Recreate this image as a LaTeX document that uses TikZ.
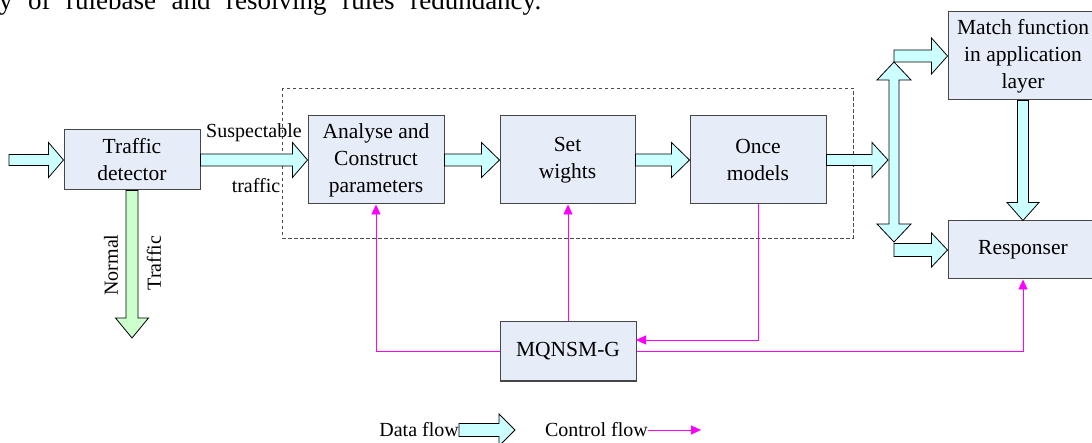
\documentclass[tikz,border=0pt]{standalone}
\usepackage{fontspec}
\setmainfont{Liberation Serif}
\usetikzlibrary{calc,arrows.meta}
\definecolor{boxfill}{RGB}{230,236,248}
\definecolor{boxline}{RGB}{70,70,70}
\definecolor{dataf}{RGB}{204,255,255}
\definecolor{normf}{RGB}{204,255,204}
\definecolor{ctrl}{RGB}{255,0,255}
\tikzset{
  blk/.style={draw=boxline, fill=boxfill, line width=1pt, align=center, inner sep=0pt,
    font=\fontsize{21.5}{27}\selectfont},
  lbl/.style={inner sep=0pt, font=\fontsize{20}{24}\selectfont},
  dataarrow/.style={draw=black, fill=dataf, line width=0.8pt, line join=miter},
  normarrow/.style={draw=black, fill=normf, line width=0.8pt, line join=miter},
  ctrlline/.style={draw=ctrl, line width=0.9pt, -{Triangle[length=10pt,width=9pt]}},
  group/.style={draw=black!70, line width=0.8pt, dash pattern=on 3.5pt off 2.5pt}
}
% horizontal block arrow: #1 style, #2 start, #3 tip, #4 shaft half, #5 head half, #6 head length
\newcommand{\harr}[6]{%
  \path[#1] let \p1=(#2), \p2=(#3) in
    ({\x1},{\y2+#4}) -- ({\x2-#6},{\y2+#4}) -- ({\x2-#6},{\y2+#5}) -- ({\x2},{\y2})
    -- ({\x2-#6},{\y2-#5}) -- ({\x2-#6},{\y2-#4}) -- ({\x1},{\y2-#4}) -- cycle;}
% vertical (downward) block arrow
\newcommand{\varr}[6]{%
  \path[#1] let \p1=(#2), \p2=(#3) in
    ({\x2-#4},{\y1}) -- ({\x2-#4},{\y2+#6}) -- ({\x2-#5},{\y2+#6}) -- ({\x2},{\y2})
    -- ({\x2+#5},{\y2+#6}) -- ({\x2+#4},{\y2+#6}) -- ({\x2+#4},{\y1}) -- cycle;}
\begin{document}
\begin{tikzpicture}[x=1pt,y=-1pt]
\useasboundingbox (0,0) rectangle (1092,443);

% clipped header line of the page
\node[anchor=base west, inner sep=0pt, font=\fontsize{27}{30}\selectfont] (hdr) at (-1,10)
  {\hbox to 542pt{y\hfill of\hfill rulebase\hfill and\hfill resolving\hfill rules\hfill redundancy.}};

% group box
\draw[group] (282,88) rectangle (853,238);

% boxes
\node[blk, minimum width=136, minimum height=60] (td) at (132,160) {Traffic\\detector};
\node[blk, minimum width=136, minimum height=88] (an) at (376,160) {Analyse and\\Construct\\parameters};
\node[blk, minimum width=135, minimum height=88] (sw) at (567.5,160) {Set\\wights};
\node[blk, minimum width=136, minimum height=88] (om) at (758,160) {Once\\models};
\node[blk, minimum width=150, minimum height=88] (mf) at (1023,56) {Match function\\in application\\layer};
\node[blk, minimum width=150, minimum height=58] (rs) at (1023,250) {Responser};
\node[blk, minimum width=136, minimum height=59] (mq) at (568,351.5) {MQNSM-G};

% coordinates
\coordinate (in) at (9,160);
\coordinate (dtip) at (888,160);
\coordinate (dtop) at (894,62);
\coordinate (dbot) at (894,242);
\coordinate (ntip) at (132,338);
\coordinate (mqin) at (636,340);

% data flow arrows
\harr{dataarrow}{in}{td.west}{5.5pt}{17.5pt}{15pt}
\harr{dataarrow}{td.east}{an.west}{6pt}{17.5pt}{15pt}
\harr{dataarrow}{an.east}{sw.west}{6pt}{17.5pt}{18pt}
\harr{dataarrow}{sw.east}{om.west}{6pt}{17.5pt}{18pt}
\harr{dataarrow}{om.east}{dtip}{5.5pt}{17.5pt}{16pt}
\harr{dataarrow}{dtop}{mf.west}{6pt}{18pt}{16pt}
\harr{dataarrow}{dbot}{rs.west}{6.5pt}{17pt}{16pt}
\varr{dataarrow}{mf.south}{rs.north}{5.5pt}{16pt}{18pt}
\varr{normarrow}{td.south}{ntip}{6pt}{16.5pt}{20pt}

% double vertical arrow
\path[dataarrow] let \p1=(dtop), \p2=(dbot) in
  ({\x1},{\y1}) -- ({\x1+17pt},{\y1-18pt}) -- ({\x1+5pt},{\y1-18pt}) -- ({\x1+5pt},{\y2+18pt})
  -- ({\x1+17pt},{\y2+18pt}) -- ({\x2},{\y2}) -- ({\x1-17pt},{\y2+18pt}) -- ({\x1-5pt},{\y2+18pt})
  -- ({\x1-5pt},{\y1-18pt}) -- ({\x1-17pt},{\y1-18pt}) -- cycle;

% labels
\node[lbl] (sus) at (254,133) {Suspectable};
\node[lbl] (trf) at (256,186) {traffic};
\node[lbl, rotate=90] (nor) at (111,265) {Normal};
\node[lbl, rotate=90] (ntr) at (154,263) {Traffic};

% control flow
\draw[ctrlline] (mq.west) -| (an.south);
\draw[ctrlline] (mq.north) -- (mq.north |- sw.south);
\draw[ctrlline] (om.south) |- (mqin);
\draw[ctrlline] (mq.east) -| (rs.south);

% legend
\node[lbl, anchor=east] (ldf) at (459,430) {Data flow};
\coordinate (ldfs) at (459,430);
\coordinate (ldft) at (515,430);
\harr{dataarrow}{ldfs}{ldft}{6.5pt}{16pt}{16pt}
\node[lbl, anchor=east] (lcf) at (648,430) {Control flow};
\coordinate (lcft) at (701,430);
\draw[ctrlline] (lcf.east) -- (lcft);
\end{tikzpicture}
\end{document}
